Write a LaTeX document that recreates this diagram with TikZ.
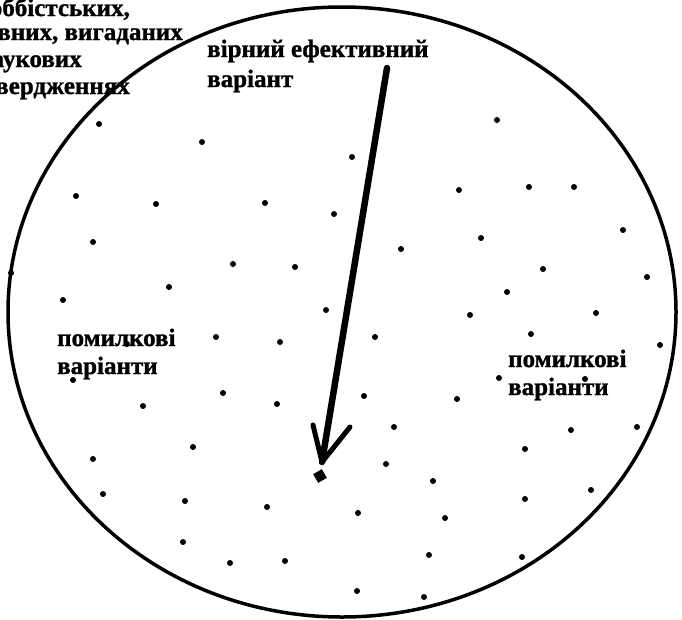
\documentclass[tikz,border=0pt]{standalone}
\usepackage{fontspec}
\setmainfont{Liberation Serif}[BoldFeatures={FakeBold=1.2}]
\usetikzlibrary{shapes.geometric}
\begin{document}
\begin{tikzpicture}[x=1pt,y=-1pt,
  dot/.style={circle,fill=black,inner sep=0pt,minimum size=6pt},
  bigdot/.style={rectangle,fill=black,inner sep=0pt,minimum size=10pt,rotate=30},
  lbl/.style={font=\bfseries\fontsize{25}{30}\selectfont,anchor=base west,inner sep=0pt},
  cornerlbl/.style={font=\bfseries\fontsize{25}{26}\selectfont,anchor=base east,inner sep=0pt},
  fieldline/.style={draw=black,line width=3.5pt},
  arrowline/.style={line width=6.5pt,line cap=round,line join=round}]
\useasboundingbox (0,0) rectangle (682,619);
\fill[white] (0,0) rectangle (682,619);
% the field of variants
\node[ellipse,fieldline,minimum width=668pt,minimum height=610pt,inner sep=0pt] (field) at (342,312) {};
% top-left text (cut by the picture edge)
\node[cornerlbl] (c1) at (130,16) {оббістських,};
\node[cornerlbl] (c2) at (183,40) {ивних, вигаданих};
\node[cornerlbl] (c3) at (82,67) {аукових};
\node[cornerlbl] (c4) at (130,94) {вердженнях};
% labels
\node[lbl] (t1) at (207,57) {вірний ефективний};
\node[lbl] (t2) at (207,87) {варіант};
\node[lbl] (l1) at (57,346) {помилкові};
\node[lbl] (l2) at (57,374) {варіанти};
\node[lbl] (r1) at (508,367) {помилкові};
\node[lbl] (r2) at (508,395) {варіанти};
% dots
\foreach \p [count=\i] in {(99,124),(202,142),(352,157),(497,120),
 (76,196),(156,204),(265,203),(334,214),(459,190),(529,187),(574,187),
 (623,230),(93,242),(233,264),(295,267),(401,249),(481,238),(543,269),(647,277),(11,273),
 (169,287),(63,300),(507,292),(470,315),(596,313),(531,334),(660,345),(499,378),(585,379),
 (457,399),(571,430),(637,427),(525,449),(375,337),(364,396),(394,427),(386,464),(326,310),
 (280,342),(216,337),(127,344),(73,380),(223,393),(143,406),(277,404),(193,447),(93,459),
 (433,481),(103,494),(185,501),(267,507),(358,513),(445,518),(525,499),(591,490),(183,542),
 (230,563),(285,561),(429,555),(522,557),(357,591),(424,597)}
  \node[dot] (d\i) at \p {};
% the correct variant and the arrow to it
\node[bigdot] (best) at (320,476) {};
\coordinate (atop) at (387,68);
\coordinate (ahead) at (322,462);
\coordinate (barbL) at (313,425);
\coordinate (barbR) at (350,427);
\draw[arrowline] (atop) -- (ahead);
\draw[line width=5pt,line cap=round,line join=round] (barbL) -- (ahead) -- (barbR);
\end{tikzpicture}
\end{document}
